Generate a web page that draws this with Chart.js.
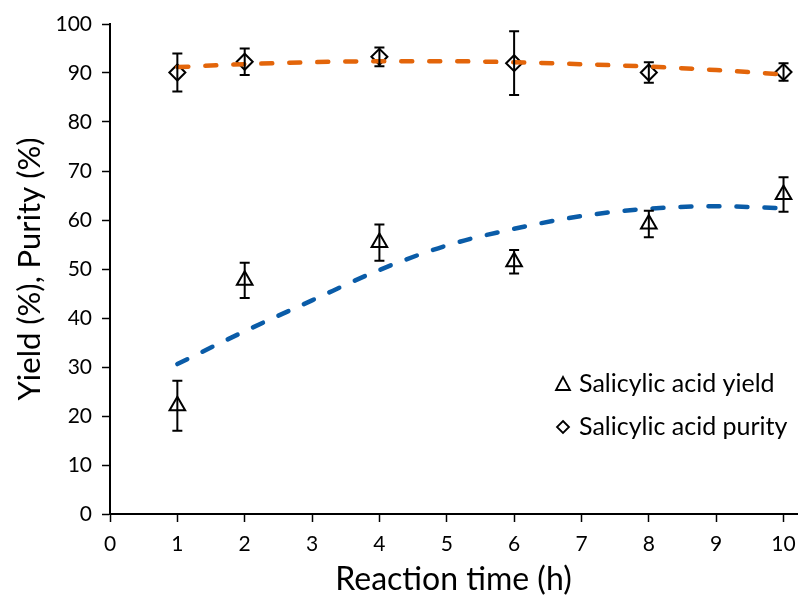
<!DOCTYPE html>
<html>
<head>
<meta charset="utf-8">
<script src="https://cdn.jsdelivr.net/npm/chart.js@4/dist/chart.umd.min.js"></script>
<style>
  html, body { margin: 0; padding: 0; background: #fff; }
  #wrap { width: 808px; height: 601px; }
</style>
</head>
<body>
<div id="wrap"><canvas id="grafico" width="808" height="601"></canvas></div>
<script>
// dados
const tempos = [1, 2, 4, 6, 8, 10];
const rendimento = [22.1, 47.7, 55.4, 51.5, 59.2, 65.2];
const rendimentoErro = [5.1, 3.6, 3.7, 2.4, 2.7, 3.5];
const pureza = [90.1, 92.3, 93.3, 92.0, 90.1, 90.2];
const purezaErro = [3.9, 2.7, 1.9, 6.5, 2.1, 1.8];

// linhas de tendência (lidas ponto a ponto)
const temposTendencia = [1, 2, 3, 4, 5, 6, 7, 8, 9, 10];
const tendenciaRendimento = [30.6, 37.3, 43.6, 49.8, 54.8, 58.2, 60.8, 62.3, 62.8, 62.4];
const tendenciaPureza = [91.2, 91.8, 92.2, 92.4, 92.4, 92.2, 91.8, 91.3, 90.6, 89.7];

const tickX = [0, 1, 2, 3, 4, 5, 6, 7, 8, 9, 10];

const fonte = "Lato, 'Open Sans', sans-serif";

function pontos(xs, ys) {
    return xs.map((x, i) => ({ x: x, y: ys[i] }));
}

// barras de erro desenhadas com as escalas do próprio gráfico
const barrasErro = {
    id: 'barrasErro',
    afterDatasetsDraw(chart) {
        const ctx = chart.ctx;
        const sx = chart.scales.x, sy = chart.scales.y;
        ctx.save();
        ctx.strokeStyle = '#000';
        ctx.lineWidth = 2;
        chart.data.datasets.forEach(ds => {
            if (!ds.erros) return;
            ds.data.forEach((p, i) => {
                const e = ds.erros[i];
                const px = sx.getPixelForValue(p.x);
                const y1 = sy.getPixelForValue(p.y + e);
                const y2 = sy.getPixelForValue(p.y - e);
                ctx.beginPath();
                ctx.moveTo(px, y1); ctx.lineTo(px, y2);
                ctx.moveTo(px - 5, y1); ctx.lineTo(px + 5, y1);
                ctx.moveTo(px - 5, y2); ctx.lineTo(px + 5, y2);
                ctx.stroke();
            });
        });
        ctx.restore();
    }
};

// legenda dentro da área do gráfico
const legendaInterna = {
    id: 'legendaInterna',
    afterDraw(chart) {
        const ctx = chart.ctx;
        const a = chart.chartArea;
        const itens = chart.data.datasets.filter(ds => ds.erros);
        const x0 = a.right - 234;
        let y = a.top + 360;
        ctx.save();
        ctx.font = '25px ' + fonte;
        ctx.textBaseline = 'middle';
        ctx.fillStyle = '#000';
        ctx.strokeStyle = '#000';
        ctx.lineWidth = 1.8;
        itens.forEach(ds => {
            ctx.beginPath();
            if (ds.pointStyle === 'triangle') {
                ctx.moveTo(x0, y - 7);
                ctx.lineTo(x0 + 7, y + 6);
                ctx.lineTo(x0 - 7, y + 6);
                ctx.closePath();
            } else {
                ctx.moveTo(x0, y - 6);
                ctx.lineTo(x0 + 6, y);
                ctx.lineTo(x0, y + 6);
                ctx.lineTo(x0 - 6, y);
                ctx.closePath();
            }
            ctx.stroke();
            ctx.fillText(ds.label, x0 + 16, y);
            y += 43;
        });
        ctx.restore();
    }
};

new Chart(document.getElementById('grafico').getContext('2d'), {
    type: 'scatter',
    data: {
        datasets: [
            {
                label: 'Tendência rendimento',
                type: 'line',
                data: pontos(temposTendencia, tendenciaRendimento),
                borderColor: '#0A5CA8',
                borderWidth: 4.5,
                borderDash: [11, 17],
                borderCapStyle: 'round',
                cubicInterpolationMode: 'monotone',
                pointRadius: 0,
                fill: false
            },
            {
                label: 'Tendência pureza',
                type: 'line',
                data: pontos(temposTendencia, tendenciaPureza),
                borderColor: '#E3650A',
                borderWidth: 4.5,
                borderDash: [11, 17],
                borderCapStyle: 'round',
                cubicInterpolationMode: 'monotone',
                pointRadius: 0,
                fill: false
            },
            {
                label: 'Salicylic acid yield',
                data: pontos(tempos, rendimento),
                erros: rendimentoErro,
                pointStyle: 'triangle',
                pointRadius: 9,
                pointBorderWidth: 2,
                borderColor: '#000',
                backgroundColor: 'rgba(0,0,0,0)'
            },
            {
                label: 'Salicylic acid purity',
                data: pontos(tempos, pureza),
                erros: purezaErro,
                pointStyle: 'rectRot',
                pointRadius: 8,
                pointBorderWidth: 2,
                borderColor: '#000',
                backgroundColor: 'rgba(0,0,0,0)'
            }
        ]
    },
    options: {
        responsive: false,
        animation: false,
        layout: { padding: { top: 24, right: 0, left: 0, bottom: 0 } },
        plugins: {
            legend: { display: false },
            tooltip: { enabled: false }
        },
        scales: {
            x: {
                type: 'linear',
                min: 0,
                max: 10.2,
                afterBuildTicks: s => { s.ticks = tickX.map(v => ({ value: v })); },
                afterFit: s => { s.height = 87; },
                grid: { drawOnChartArea: false, color: '#000', tickLength: 8, tickWidth: 1.5 },
                border: { color: '#000', width: 2 },
                ticks: { color: '#000', font: { family: fonte, size: 21 }, padding: 10, maxRotation: 0 },
                title: {
                    display: true,
                    text: 'Reaction time (h)',
                    color: '#000',
                    font: { family: fonte, size: 32 },
                    padding: { top: 0, bottom: 2 }
                }
            },
            y: {
                min: 0,
                max: 100,
                ticks: { stepSize: 10, color: '#000', font: { family: fonte, size: 21 }, padding: 10 },
                afterFit: s => { s.width = 110; },
                grid: { drawOnChartArea: false, color: '#000', tickLength: 8, tickWidth: 1.5 },
                border: { color: '#000', width: 2 },
                title: {
                    display: true,
                    text: 'Yield (%), Purity (%)',
                    color: '#000',
                    font: { family: fonte, size: 31 },
                    padding: { top: 11, bottom: 0 }
                }
            }
        }
    },
    plugins: [barrasErro, legendaInterna]
});
</script>
</body>
</html>
